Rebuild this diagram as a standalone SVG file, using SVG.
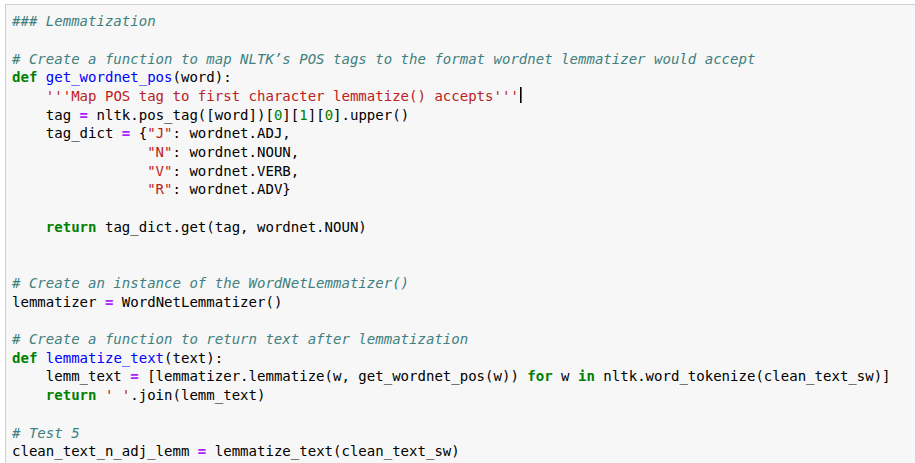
<svg xmlns="http://www.w3.org/2000/svg" width="915" height="463" viewBox="0 0 915 463" xml:space="preserve">
<style>
text{font-family:"DejaVu Sans Mono","Liberation Mono",monospace;font-size:14.04px;fill:#000;white-space:pre}
.c{fill:#408080;font-style:italic}
.k{fill:#008000;font-weight:bold}
.f{fill:#0000ff}
.s{fill:#ba2121}
.o{fill:#aa22ff;font-weight:bold}
.n{fill:#008000}
</style>
<rect x="0" y="0" width="915" height="463" fill="#ffffff"/>
<g id="cell">
<rect x="5.5" y="4.5" width="915" height="465" fill="#f7f7f7" stroke="#cfcfcf" stroke-width="1"/>
</g>
<g id="code" transform="translate(0,1.2)">
<text x="12" y="25"><tspan class="c">### Lemmatization</tspan></text>
<text x="12" y="62.4"><tspan class="c"># Create a function to map NLTK’s POS tags to the format wordnet lemmatizer would accept</tspan></text>
<text x="12" y="81.1"><tspan class="k">def</tspan> <tspan class="f">get_wordnet_pos</tspan>(word):</text>
<text x="12" y="99.8">    <tspan class="s">'''Map POS tag to first character lemmatize() accepts'''</tspan></text>
<text x="12" y="118.5">    tag <tspan class="o">=</tspan> nltk.pos_tag([word])[<tspan class="n">0</tspan>][<tspan class="n">1</tspan>][<tspan class="n">0</tspan>].upper()</text>
<text x="12" y="137.2">    tag_dict <tspan class="o">=</tspan> {<tspan class="s">"J"</tspan>: wordnet.ADJ,</text>
<text x="12" y="155.9">                <tspan class="s">"N"</tspan>: wordnet.NOUN,</text>
<text x="12" y="174.6">                <tspan class="s">"V"</tspan>: wordnet.VERB,</text>
<text x="12" y="193.3">                <tspan class="s">"R"</tspan>: wordnet.ADV}</text>
<text x="12" y="230.7">    <tspan class="k">return</tspan> tag_dict.get(tag, wordnet.NOUN)</text>
<text x="12" y="286.8"><tspan class="c"># Create an instance of the WordNetLemmatizer()</tspan></text>
<text x="12" y="305.5">lemmatizer <tspan class="o">=</tspan> WordNetLemmatizer()</text>
<text x="12" y="342.9"><tspan class="c"># Create a function to return text after lemmatization</tspan></text>
<text x="12" y="361.6"><tspan class="k">def</tspan> <tspan class="f">lemmatize_text</tspan>(text):</text>
<text x="12" y="380.3">    lemm_text <tspan class="o">=</tspan> [lemmatizer.lemmatize(w, get_wordnet_pos(w)) <tspan class="k">for</tspan> w <tspan class="k">in</tspan> nltk.word_tokenize(clean_text_sw)]</text>
<text x="12" y="399">    <tspan class="k">return</tspan> <tspan class="s">' '</tspan>.join(lemm_text)</text>
<text x="12" y="436.4"><tspan class="c"># Test 5</tspan></text>
<text x="12" y="455.1">clean_text_n_adj_lemm <tspan class="o">=</tspan> lemmatize_text(clean_text_sw)</text>
</g>
<g id="cursor">
<rect x="520" y="87" width="1.6" height="16" fill="#000"/>
</g>
</svg>
